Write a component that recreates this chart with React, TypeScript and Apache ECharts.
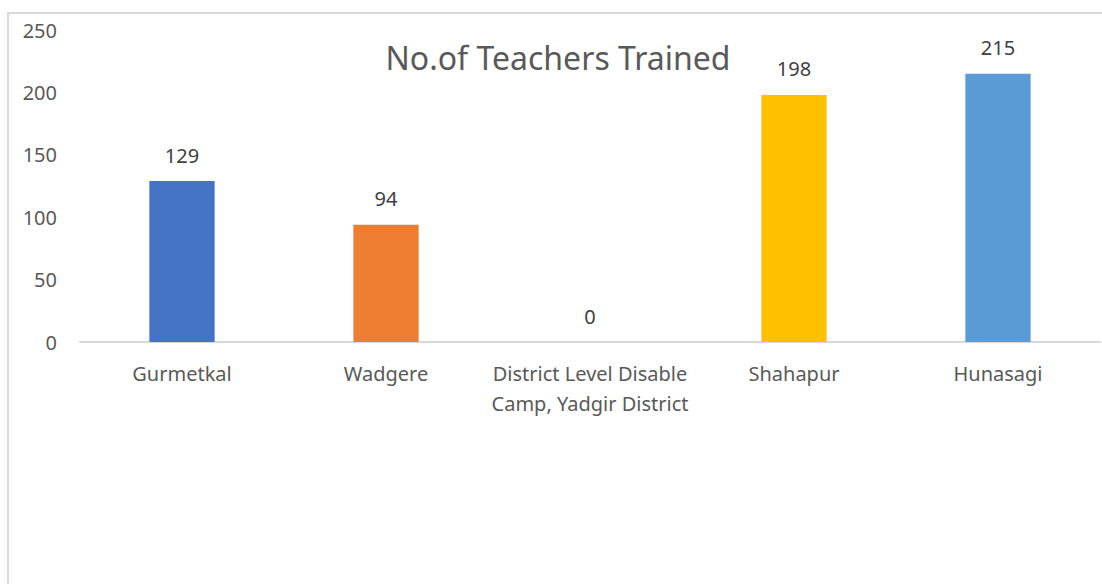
import React, { useEffect, useRef } from "react";
import * as echarts from "echarts";

const categories = [
  "Gurmetkal",
  "Wadgere",
  "District Level Disable\nCamp, Yadgir District",
  "Shahapur",
  "Hunasagi",
];
const values = [129, 94, 0, 198, 215];
const barColors = ["#4472C4", "#ED7D31", "#A5A5A5", "#FFC000", "#5B9BD5"];
const yTicks = { min: 0, max: 250, interval: 50 };
const titleText = "No.of Teachers Trained";

const FONT = "Noto Sans";

export default function App() {
  const ref = useRef<HTMLDivElement>(null);
  useEffect(() => {
    if (!ref.current) return;
    const chart = echarts.init(ref.current, undefined, { renderer: "svg" });
    chart.setOption({
      animation: false,
      backgroundColor: "#ffffff",
      title: {
        text: titleText,
        left: 553,
        top: 36,
        textAlign: "center",
        textStyle: {
          fontFamily: FONT,
          fontSize: 32,
          fontWeight: "normal",
          color: "#595959",
        },
      },
      graphic: [
        {
          type: "rect",
          silent: true,
          z: -10,
          shape: { x: 8, y: 13, width: 1200, height: 700 },
          style: { fill: "none", stroke: "#d9d9d9", lineWidth: 2 },
        },
      ],
      grid: { left: 80, right: 2, top: 30, bottom: 242, containLabel: false },
      xAxis: {
        type: "category",
        data: categories,
        axisLine: { show: true, lineStyle: { color: "#d9d9d9", width: 2 } },
        axisTick: { show: false },
        axisLabel: {
          fontFamily: FONT,
          fontSize: 20,
          color: "#595959",
          margin: 16,
          lineHeight: 30,
          interval: 0,
        },
      },
      yAxis: {
        type: "value",
        min: yTicks.min,
        max: yTicks.max,
        interval: yTicks.interval,
        axisLine: { show: false },
        axisTick: { show: false },
        splitLine: { show: false },
        axisLabel: {
          fontFamily: FONT,
          fontSize: 20,
          color: "#595959",
          margin: 23,
        },
      },
      series: [
        {
          type: "bar",
          barWidth: "32%",
          data: values.map((v, i) => ({
            value: v,
            itemStyle: { color: barColors[i] },
          })),
          label: {
            show: true,
            position: "top",
            distance: 16,
            fontFamily: FONT,
            fontSize: 20,
            color: "#404040",
          },
        },
      ],
    });
    return () => chart.dispose();
  }, []);
  return (
    <div
      ref={ref}
      style={{ position: "absolute", left: 0, top: 0, width: 1102, height: 584 }}
    />
  );
}
